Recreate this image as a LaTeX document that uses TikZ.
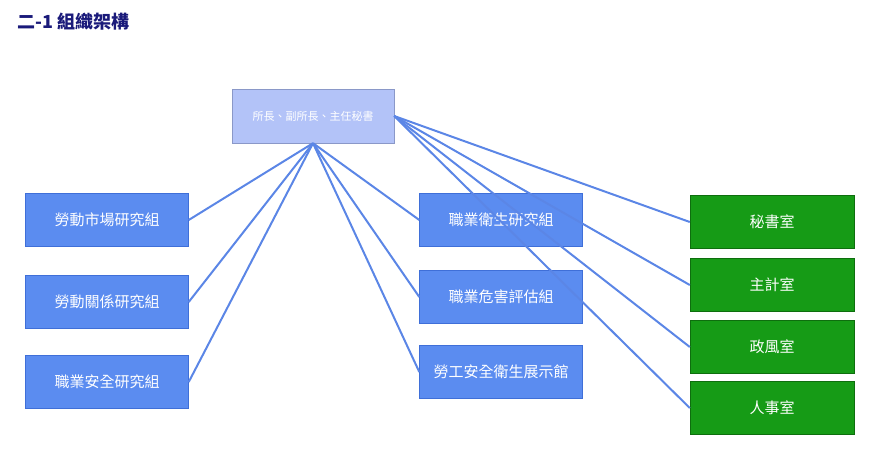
\documentclass[tikz,border=0pt]{standalone}
\usepackage{fontspec}
\setmainfont{Noto Sans CJK TC}
\usetikzlibrary{positioning}
\definecolor{unitblue}{HTML}{5B8CF0}
\definecolor{unitedge}{HTML}{3F6FD8}
\definecolor{headfill}{HTML}{B3C3F8}
\definecolor{headedge}{HTML}{8A98C8}
\definecolor{officegreen}{HTML}{169B16}
\definecolor{officeedge}{HTML}{0E6E0E}
\definecolor{linkblue}{HTML}{5B86E6}
\definecolor{titlenavy}{HTML}{1A1A7A}
\begin{document}
\begin{tikzpicture}[x=1pt,y=-1pt,
    unitbox/.style={draw=unitedge,fill=unitblue,text=white,minimum width=163pt,minimum height=53pt,font=\fontsize{15}{18}\selectfont,inner sep=0pt},
    officebox/.style={draw=officeedge,fill=officegreen,text=white,minimum width=164pt,minimum height=53pt,font=\fontsize{15}{18}\selectfont,inner sep=0pt},
    link/.style={draw=linkblue,line width=2pt}]
    \useasboundingbox (0,0) rectangle (890,475);
    % title
    \node[anchor=west,text=titlenavy,font=\fontsize{18}{20}\selectfont\bfseries] (title) at (14,22) {二-1 組織架構};
    % head
    \node[draw=headedge,fill=headfill,text=white,minimum width=162pt,minimum height=54pt,font=\fontsize{11}{13}\selectfont,inner sep=0pt] (head) at (313,116) {所長、副所長、主任秘書};
    % left column
    \node[unitbox] (market) at (107,220) {勞動市場研究組};
    \node[unitbox] (relation) at (107,302) {勞動關係研究組};
    \node[unitbox] (safety) at (107,382) {職業安全研究組};
    % middle column
    \node[unitbox] (hygiene) at (501,220) {職業衛生研究組};
    \node[unitbox] (hazard) at (501,297) {職業危害評估組};
    \node[unitbox] (museum) at (501,372) {勞工安全衛生展示館};
    % right column
    \node[officebox] (secretary) at (772,222) {秘書室};
    \node[officebox] (account) at (772,285) {主計室};
    \node[officebox] (ethics) at (772,347) {政風室};
    \node[officebox] (personnel) at (772,408) {人事室};
    % links
    \foreach \unit in {market,relation,safety}
        \draw[link] (head.south) -- (\unit.east);
    \foreach \unit in {hygiene,hazard,museum}
        \draw[link] (head.south) -- (\unit.west);
    \foreach \office in {secretary,account,ethics,personnel}
        \draw[link] (head.east) -- (\office.west);
\end{tikzpicture}
\end{document}
